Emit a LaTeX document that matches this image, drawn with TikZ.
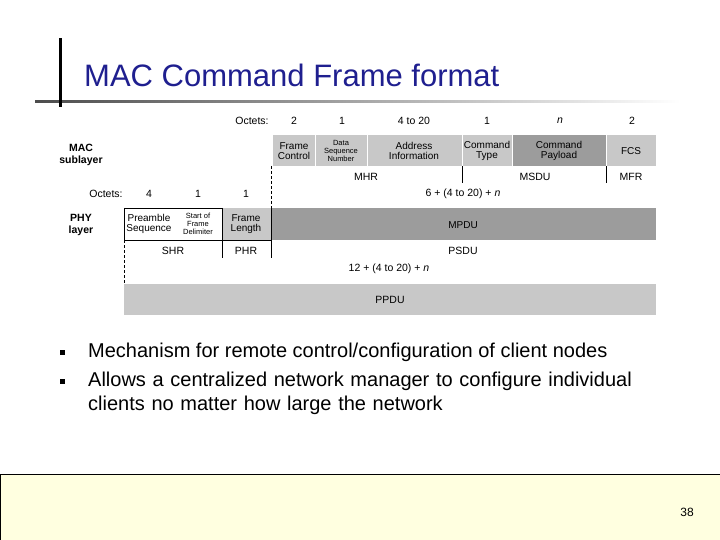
\documentclass[tikz,border=0pt]{standalone}
\usepackage{fontspec}
\setmainfont{Liberation Sans}
\definecolor{titleblue}{HTML}{1F1F8F}
\definecolor{lg}{HTML}{C8C8C8}
\definecolor{dg}{HTML}{9C9C9C}
\definecolor{foot}{HTML}{FFFFE0}
\begin{document}
\begin{tikzpicture}[x=1pt,y=-1pt,
  cell/.style={inner sep=0pt,align=center,font=\fontsize{10}{10.5}\selectfont},
  small/.style={font=\fontsize{7.5}{8}\selectfont,align=center,inner sep=0pt},
  lbl/.style={font=\fontsize{10.5}{11}\selectfont,inner sep=0pt},
  blbl/.style={font=\bfseries\fontsize{10.5}{12}\selectfont,align=center,inner sep=0pt},
  sep/.style={black,line width=0.7pt},
  dsep/.style={black,line width=1pt,dash pattern=on 3pt off 2pt},
  btext/.style={font=\fontsize{20}{24}\selectfont,anchor=west,inner sep=0pt,align=left}]
\useasboundingbox (0,0) rectangle (720,540);
% header decoration
\shade[left color=black!70,right color=white] (35,101) rectangle (680,103);
\fill[black] (59,38) rectangle (62,107);
\node[anchor=west,text=titleblue,font=\fontsize{31}{34}\selectfont,inner sep=0pt] (title) at (84,75) {MAC Command Frame format};
% MAC row
\node[lbl] (oct1) at (252,121) {Octets:};
\foreach \x/\t in {294/2,342/1,414/4 to 20,487/1,560/\textit{n},632/2}
  \node[lbl] at (\x,121) {\t};
\node[blbl] (mac) at (81,155) {MAC\\sublayer};
\fill[lg] (273,135) rectangle (512,166);
\fill[dg] (512,135) rectangle (606,166);
\fill[lg] (606,135) rectangle (656,166);
\foreach \x in {315,367,462,512,606} \draw[white,line width=0.8pt] (\x,135) -- (\x,166);
\node[cell] (fc) at (294,151) {Frame\\Control};
\node[small] (dsn) at (341,151) {Data\\Sequence\\Number};
\node[cell] (ai) at (414,151) {Address\\Information};
\node[cell] (ct) at (487,151) {Command\\Type};
\node[cell] (cp) at (559,151) {Command\\Payload};
\node[cell] (fcs) at (631,151) {FCS};
\draw[sep] (462,166) -- (462,183);
\draw[sep] (606,166) -- (606,183);
\node[lbl] (mhr) at (366,177) {MHR};
\node[lbl] (msdu) at (535,177) {MSDU};
\node[lbl] (mfr) at (631,177) {MFR};
\draw[dsep] (271,166) -- (271,208);
% PHY row
\node[lbl] (oct2) at (106,194) {Octets:};
\node[lbl] at (149,194) {4};
\node[lbl] at (198,194) {1};
\node[lbl] at (246,194) {1};
\node[lbl] (len1) at (463,194) {6 + (4 to 20) + \textit{n}};
\node[blbl] (phy) at (81,225) {PHY\\layer};
\draw[black,line width=0.7pt] (124,208) -- (656,208) (124,208) -- (124,240) -- (271,240);
\fill[lg] (222,208.5) rectangle (271,240);
\fill[dg] (271,208.5) rectangle (656,240);
\draw[black,line width=0.7pt] (222,208) -- (222,258);
\draw[black,line width=0.7pt] (271,208) -- (271,258);
\node[cell] (pre) at (149,224) {Preamble\\Sequence};
\node[small] (sfd) at (198,224) {Start of\\Frame\\Delimiter};
\node[cell] (fl) at (246,224) {Frame\\Length};
\node[cell] (mpdu) at (463,225) {MPDU};
\node[lbl] (shr) at (173,251) {SHR};
\node[lbl] (phr) at (246,251) {PHR};
\node[lbl] (psdu) at (463,251) {PSDU};
\node[lbl] (len2) at (389,269) {12 + (4 to 20) + \textit{n}};
\draw[dsep] (124,240) -- (124,284);
\draw[black,line width=0.7pt] (124,284) -- (656,284);
\fill[lg] (124,284.4) rectangle (656,315);
\node[lbl] (ppdu) at (390,300) {PPDU};
% bullets
\fill[black] (60,350) rectangle (65,355);
\fill[black] (60,379) rectangle (65,384);
\node[btext] (b1) at (88,352) {Mechanism for remote control/configuration of client nodes};
\node[btext,text width=580pt] (b2) at (88,393) {Allows a centralized network manager to configure individual\\clients no matter how large the network};
% footer
\fill[foot] (0,474) rectangle (720,540);
\draw[black,line width=0.8pt] (0,540) -- (0,474) -- (720,474);
\node[font=\fontsize{12}{14}\selectfont,inner sep=0pt] (pg) at (687,512) {38};
\end{tikzpicture}
\end{document}
